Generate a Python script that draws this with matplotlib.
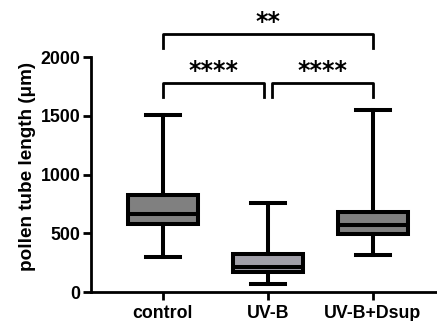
import matplotlib.pyplot as plt

plt.rcParams['font.family'] = ['Liberation Sans', 'DejaVu Sans']
plt.rcParams['font.weight'] = 'bold'

groups = ['control', 'UV-B', 'UV-B+Dsup']
whislo = [300, 71, 312]
q1 = [575, 170, 493]
med = [665, 210, 572]
q3 = [825, 323, 678]
whishi = [1510, 754, 1545]
box_colors = ['#808080', '#a09fa8', '#808080']

# significance brackets: (left group, right group, label)
sig_pairs = [(0, 0.96, '****'), (1.04, 2, '****'), (0, 2, '**')]
sig_heights = [1779, 1779, 2196]

fig = plt.figure(figsize=(4.37, 3.21), dpi=100)
ax = fig.add_axes([0.208, 0.0903, 0.792, 0.732])

stats = []
for i, g in enumerate(groups):
    stats.append(dict(label=g, whislo=whislo[i], q1=q1[i], med=med[i],
                      q3=q3[i], whishi=whishi[i], fliers=[]))

bp = ax.bxp(stats, positions=range(len(groups)), widths=0.66, capwidths=0.32,
            patch_artist=True, showfliers=False,
            boxprops=dict(linewidth=2.9, edgecolor='black'),
            medianprops=dict(linewidth=2.9, color='black'),
            whiskerprops=dict(linewidth=2.9, color='black'),
            capprops=dict(linewidth=2.9, color='black'))
for patch, c in zip(bp['boxes'], box_colors):
    patch.set_facecolor(c)

ax.set_xlim(-0.686, 2.61)
ax.set_ylim(0, 2000)
ax.set_yticks([0, 500, 1000, 1500, 2000])
ax.set_ylabel('pollen tube length (μm)', fontsize=13.6, fontweight='bold')
ax.yaxis.set_label_coords(-0.16, 0.535)
ax.set_xticks(range(len(groups)))
ax.set_xticklabels(groups, fontsize=12.8, fontweight='bold')
ax.tick_params(axis='both', width=2, length=6, labelsize=12.8)
ax.tick_params(axis='y', pad=1.5)
ax.tick_params(axis='x', pad=3)
for side in ['top', 'right']:
    ax.spines[side].set_visible(False)
for side in ['left', 'bottom']:
    ax.spines[side].set_linewidth(2)

drop = 119
for (a, b, lab), h in zip(sig_pairs, sig_heights):
    ax.plot([a, a, b, b], [h - drop, h, h, h - drop], color='black',
            linewidth=2, clip_on=False)
    ax.text((a + b) / 2, h + 45, lab, ha='center', va='baseline',
            fontsize=17, fontweight='bold', family='DejaVu Sans')

fig.savefig('out.png', dpi=100)
